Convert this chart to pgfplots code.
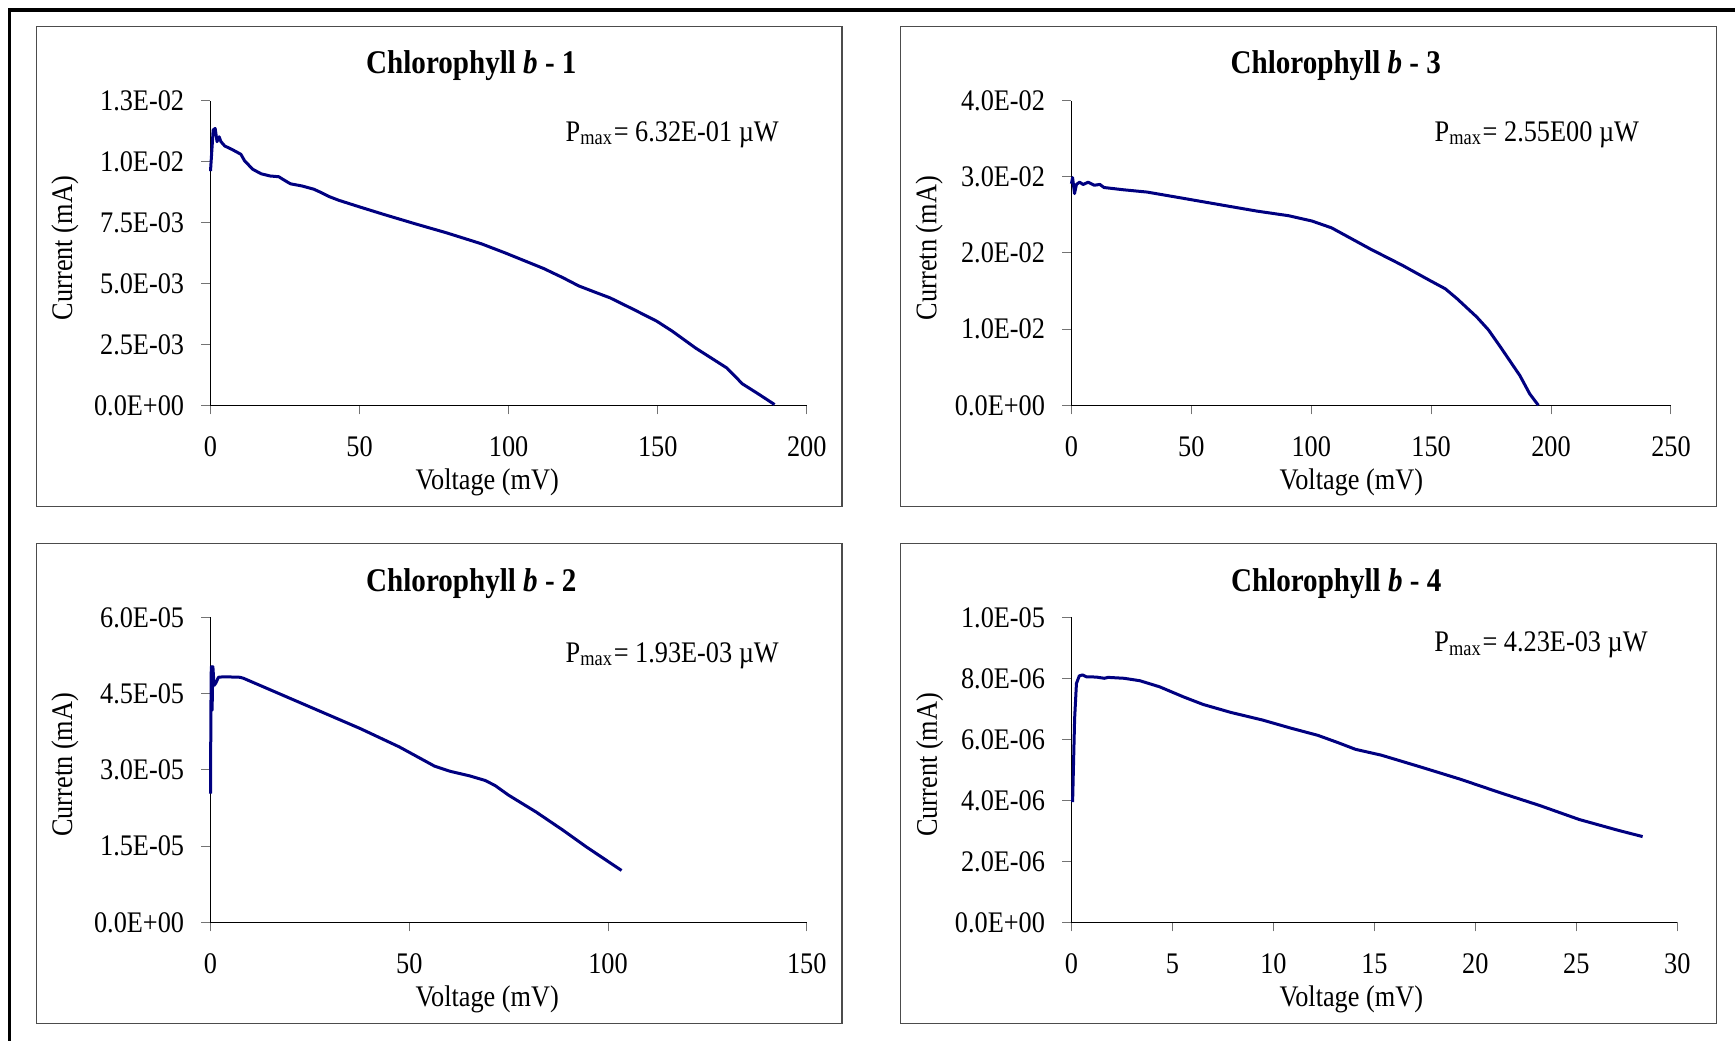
\documentclass[border=0pt]{standalone}
\usepackage{fontspec}
\setmainfont{Liberation Serif}[FakeStretch=0.88]
\usepackage{pgfplots}
\pgfplotsset{compat=1.18}
\definecolor{navyline}{RGB}{0,0,128}
\newcommand\lab{\fontsize{8.5}{10}\selectfont}
\newcommand\ttl{\fontsize{9.4}{11}\selectfont\bfseries}

\pgfplotsset{
  iv/.style={
    scale only axis,
    axis lines=left,
    axis line style={-, black, line width=0.1mm},
    tick align=outside,
    major tick length=0.9mm,
    tick style={black!55, line width=0.1mm},
    enlargelimits=false,
    clip=false,
    scaled y ticks=false,
    font=\lab,
    /pgf/number format/assume math mode=true,
    xticklabel style={anchor=north, inner sep=0pt, yshift=-2.17mm},
    yticklabel style={anchor=east, inner sep=0pt, xshift=-1.67mm},
    every axis title shift=0pt,
    title style={font=\ttl, anchor=center},
    xlabel style={anchor=center, yshift=-0.2mm},
    ylabel style={anchor=center},
  },
  ivline/.style={navyline, line width=0.3mm, line join=round, mark=none},
}

\begin{document}
\begin{tikzpicture}[x=0.1mm, y=0.1mm]
\useasboundingbox (0,0) rectangle (1735,1041);

% axis origins (lower left corner of each plot area)
\coordinate (p1) at (210.5,635.7);
\coordinate (p3) at (1071.4,635.7);
\coordinate (p2) at (210.5,118.7);
\coordinate (p4) at (1071.4,118.7);

% outer frame (left and top only)
\draw[line width=0.4mm] (9.5,0) -- (9.5,1030.5) -- (1735,1030.5);

% panel boxes
\draw[black!70, line width=0.12mm] (36.5,534.2) rectangle (842,1014.4);
\draw[black!70, line width=0.12mm] (900.7,534.2) rectangle (1716.2,1014.4);
\draw[black!70, line width=0.12mm] (36.5,17.5) rectangle (842,497.7);
\draw[black!70, line width=0.12mm] (900.7,17.5) rectangle (1716.2,497.7);

% Chlorophyll b - 1
\begin{axis}[iv, at={(p1)}, anchor=south west,
  width=59.63mm, height=30.46mm,
  xmin=0, xmax=200, xtick={0,50,...,200},
  ymin=0, ymax=0.0125, ytick={0,0.0025,0.005,0.0075,0.01,0.0125},
  yticklabels={0.0E+00,2.5E-03,5.0E-03,7.5E-03,1.0E-02,1.3E-02},
  title={Chlorophyll \textit{b} - 1},
  title style={at={(axis description cs:0.4375,1.116)}},
  xlabel={Voltage (mV)}, xlabel style={at={(axis description cs:0.464,-0.245)}},
  ylabel={Current (mA)}, ylabel style={at={(axis description cs:-0.244,0.516)}}]
\addplot[ivline] coordinates {(0,9.61e-3)(0.9,11.30e-3)(1.57,11.36e-3)(2.2,10.82e-3)(2.9,11.02e-3)
 (3.5,10.82e-3)(4.8,10.64e-3)(7.2,10.50e-3)(10.2,10.30e-3)(11.5,10.02e-3)(12.8,9.86e-3)
 (14.1,9.69e-3)(17.0,9.50e-3)(20.0,9.41e-3)(22.9,9.38e-3)(24.2,9.28e-3)(26.8,9.09e-3)
 (30.7,9.00e-3)(34.6,8.87e-3)(37.3,8.72e-3)(39.9,8.56e-3)(43.1,8.41e-3)(50.3,8.13e-3)
 (58.2,7.83e-3)(68.6,7.45e-3)(79.1,7.08e-3)(90.8,6.63e-3)(98.7,6.26e-3)(111.8,5.61e-3)
 (118.3,5.23e-3)(123.5,4.90e-3)(128.8,4.65e-3)(134.0,4.41e-3)(141.8,3.94e-3)(149.7,3.45e-3)
 (154.9,3.04e-3)(162.7,2.35e-3)(173.2,1.53e-3)(178.4,0.88e-3)(183.7,0.47e-3)(189.2,0.03e-3)};
\node[anchor=west, inner sep=0pt] at (axis description cs:0.5945,0.889) {P\textsubscript{max}= 6.32E-01 µW};
\end{axis}

% Chlorophyll b - 3
\begin{axis}[iv, at={(p3)}, anchor=south west,
  width=59.96mm, height=30.46mm,
  xmin=0, xmax=250, xtick={0,50,...,250},
  ymin=0, ymax=0.04, ytick={0,0.01,0.02,0.03,0.04},
  yticklabels={0.0E+00,1.0E-02,2.0E-02,3.0E-02,4.0E-02},
  title={Chlorophyll \textit{b} - 3},
  title style={at={(axis description cs:0.441,1.116)}},
  xlabel={Voltage (mV)}, xlabel style={at={(axis description cs:0.467,-0.245)}},
  ylabel={Curretn (mA)}, ylabel style={at={(axis description cs:-0.237,0.516)}}]
\addplot[ivline] coordinates {(0,2.91e-2)(0.5,2.99e-2)(1.3,2.78e-2)(2.1,2.90e-2)(3.4,2.93e-2)
 (4.9,2.90e-2)(7.0,2.93e-2)(9.5,2.89e-2)(11.9,2.90e-2)(13.6,2.86e-2)(21.8,2.83e-2)
 (31.6,2.80e-2)(46.3,2.72e-2)(62.7,2.63e-2)(77.4,2.55e-2)(90.5,2.49e-2)(100.3,2.42e-2)
 (108.5,2.33e-2)(124.8,2.05e-2)(137.9,1.84e-2)(149.4,1.64e-2)(155.9,1.53e-2)(160.8,1.40e-2)
 (169.0,1.16e-2)(173.9,0.99e-2)(178.8,0.77e-2)(187.0,0.39e-2)(191.1,0.15e-2)(194.7,0)};
\node[anchor=west, inner sep=0pt] at (axis description cs:0.6047,0.889) {P\textsubscript{max}= 2.55E00 µW};
\end{axis}

% Chlorophyll b - 2
\begin{axis}[iv, at={(p2)}, anchor=south west,
  width=59.63mm, height=30.5mm,
  xmin=0, xmax=150, xtick={0,50,100,150},
  ymin=0, ymax=6e-5, ytick={0,1.5e-5,3e-5,4.5e-5,6e-5},
  yticklabels={0.0E+00,1.5E-05,3.0E-05,4.5E-05,6.0E-05},
  title={Chlorophyll \textit{b} - 2},
  title style={at={(axis description cs:0.4375,1.112)}},
  xlabel={Voltage (mV)}, xlabel style={at={(axis description cs:0.464,-0.245)}},
  ylabel={Curretn (mA)}, ylabel style={at={(axis description cs:-0.244,0.516)}}]
\addplot[ivline] coordinates {(0,25.3e-6)(0.1,41.4e-6)(0.2,50.3e-6)(0.4,41.7e-6)(0.6,50.3e-6)
 (0.9,46.6e-6)(1.3,47.0e-6)(2.0,48.2e-6)(3.4,48.3e-6)(7.4,48.2e-6)(8.3,48.0e-6)
 (18.1,44.7e-6)(27.9,41.4e-6)(37.7,38.1e-6)(47.5,34.5e-6)(56.4,30.7e-6)(60.3,29.7e-6)
 (65.2,28.8e-6)(69.1,27.9e-6)(71.6,26.9e-6)(75.0,25.0e-6)(81.9,21.7e-6)(88.7,18.1e-6)
 (94.6,14.8e-6)(103.4,10.2e-6)};
\node[anchor=west, inner sep=0pt] at (axis description cs:0.5945,0.875) {P\textsubscript{max}= 1.93E-03 µW};
\end{axis}

% Chlorophyll b - 4
\begin{axis}[iv, at={(p4)}, anchor=south west,
  width=60.6mm, height=30.5mm,
  xmin=0, xmax=30, xtick={0,5,...,30},
  ymin=0, ymax=1e-5, ytick={0,2e-6,4e-6,6e-6,8e-6,1e-5},
  yticklabels={0.0E+00,2.0E-06,4.0E-06,6.0E-06,8.0E-06,1.0E-05},
  title={Chlorophyll \textit{b} - 4},
  title style={at={(axis description cs:0.437,1.112)}},
  xlabel={Voltage (mV)}, xlabel style={at={(axis description cs:0.462,-0.245)}},
  ylabel={Current (mA)}, ylabel style={at={(axis description cs:-0.234,0.516)}}]
\addplot[ivline] coordinates {(0.06,3.94e-6)(0.10,5.04e-6)(0.16,6.68e-6)(0.25,7.83e-6)(0.39,8.08e-6)
 (0.55,8.11e-6)(0.74,8.05e-6)(1.23,8.04e-6)(1.63,8.00e-6)(1.82,8.03e-6)(2.61,8.00e-6)
 (3.39,7.92e-6)(4.37,7.72e-6)(5.55,7.39e-6)(6.53,7.14e-6)(7.90,6.88e-6)(9.47,6.63e-6)
 (10.84,6.37e-6)(12.2,6.13e-6)(13.2,5.89e-6)(14.07,5.67e-6)(15.34,5.48e-6)(17.3,5.09e-6)
 (19.26,4.69e-6)(21.22,4.25e-6)(23.18,3.83e-6)(25.14,3.37e-6)(27.1,3.01e-6)(28.28,2.81e-6)};
\node[anchor=west, inner sep=0pt] at (axis description cs:0.598,0.91) {P\textsubscript{max}= 4.23E-03 µW};
\end{axis}
\end{tikzpicture}
\end{document}
